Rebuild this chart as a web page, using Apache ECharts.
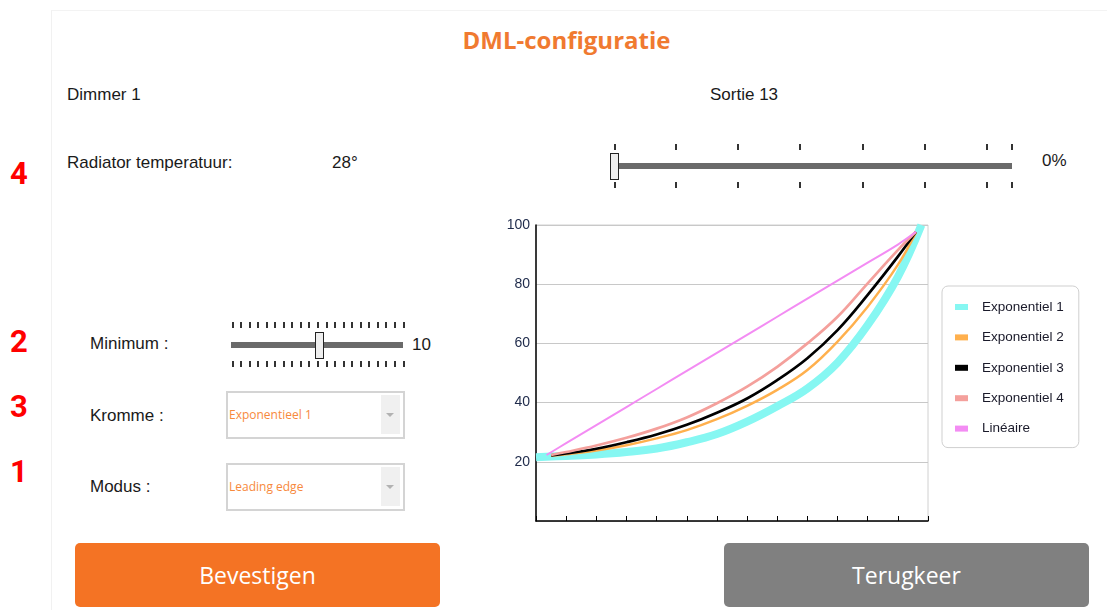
<!DOCTYPE html>
<html lang="nl">
<head>
    <meta charset="UTF-8">
    <title>DML-configuratie</title>
    <style>
        html,body{
            margin: 0;
            padding: 0;
            background: #fff;
        }
        #page{
            position: relative;
            width: 1107px;
            height: 610px;
            overflow: hidden;
            font-family: "Liberation Sans", Arial, sans-serif;
            color: #1a1a1a;
        }
        .abs{ position: absolute; white-space: nowrap; }
        .lbl{ font-size: 17px; line-height: 20px; }
        .nr{ font-family: Roboto, sans-serif; font-weight: 700; font-size: 31px; color: #ff0000; line-height: 32px; }
        #panel{ left: 51px; top: 10px; width: 1100px; height: 640px; border-left: 1px solid #f1f1f1; border-top: 1px solid #f3f3f3; }
        h1{ position: absolute; left: 0; width: 1133px; top: 23px; margin: 0; text-align: center;
            font-family: "Open Sans", sans-serif; font-weight: 700; font-size: 24px; color: #f07a30; line-height: 34px; }
        .track{ position: absolute; height: 6px; background: #6a6a6a; }
        .thumb{ position: absolute; width: 7px; height: 25px; background: #eeeeee; border: 1px solid #222; }
        .tick{ position: absolute; width: 2px; height: 6px; background: #333; }
        .combo{ position: absolute; width: 175px; height: 44px; border: 2px solid #d4d4d4; background: #fff; }
        .combo span{ position: absolute; left: 1px; top: 13px; font-family: "Open Sans", sans-serif; font-size: 12px; color: #f7893c; line-height: 18px; }
        .combo i{ position: absolute; left: 153px; top: 2px; width: 19px; height: 39px; background: #f0f0f0; }
        .combo i:after{ content: ""; position: absolute; left: 5px; top: 18px; border-left: 4.5px solid transparent; border-right: 4.5px solid transparent; border-top: 4px solid #b2b2b2; }
        .btn{ position: absolute; top: 543px; width: 365px; height: 64px; border-radius: 5px; color: #fff;
              font-family: "Open Sans", sans-serif; font-size: 23px; line-height: 64px; text-align: center; }
        #chart{ position: absolute; left: 480px; top: 200px; width: 620px; height: 340px; }
    </style>
</head>
<body>
<div id="page">
    <div id="panel" class="abs"></div>
    <h1>DML-configuratie</h1>

    <div class="abs lbl" style="left:67px;top:85px;">Dimmer 1</div>
    <div class="abs lbl" style="left:710px;top:85px;">Sortie 13</div>
    <div class="abs lbl" style="left:67px;top:153px;">Radiator temperatuur:</div>
    <div class="abs lbl" style="left:332px;top:153px;">28°</div>
    <div class="abs lbl" style="left:1042px;top:151px;">0%</div>

    <div class="abs nr" style="left:10px;top:158px;">4</div>
    <div class="abs nr" style="left:10px;top:326px;">2</div>
    <div class="abs nr" style="left:10px;top:391px;">3</div>
    <div class="abs nr" style="left:10px;top:456px;">1</div>

    <div class="abs lbl" style="left:90px;top:334px;">Minimum :</div>
    <div class="abs lbl" style="left:90px;top:406px;">Kromme :</div>
    <div class="abs lbl" style="left:90px;top:477px;">Modus :</div>
    <div class="abs lbl" style="left:412px;top:335px;">10</div>

    <div class="track" style="left:616px;top:163px;width:396px;"></div>
    <div class="thumb" style="left:610px;top:153px;"></div>
    <div id="ticksTop"></div>

    <div class="track" style="left:231px;top:342px;width:172px;"></div>
    <div class="thumb" style="left:315px;top:332px;"></div>
    <div id="ticksMin"></div>

    <div class="combo" style="left:226px;top:391px;"><span>Exponentieel 1</span><i></i></div>
    <div class="combo" style="left:226px;top:463px;"><span>Leading edge</span><i></i></div>

    <div class="btn" style="left:75px;background:#f47324;">Bevestigen</div>
    <div class="btn" style="left:724px;background:#808080;">Terugkeer</div>

    <div id="chart"></div>
</div>
<script src="https://cdn.jsdelivr.net/npm/echarts@6/dist/echarts.min.js"></script>
<script>
    // slider tick marks
    var topTicks = [614, 675, 737, 799, 862, 924, 986, 1011];
    function addTicks(el, xs, y1, y2) {
        var html = '';
        xs.forEach(function (x) {
            html += '<div class="tick" style="left:' + x + 'px;top:' + y1 + 'px;"></div>';
            html += '<div class="tick" style="left:' + x + 'px;top:' + y2 + 'px;"></div>';
        });
        document.getElementById(el).innerHTML = html;
    }
    addTicks('ticksTop', topTicks, 144, 182);
    var minTicks = [];
    for (var i = 0; i <= 20; i++) minTicks.push(Math.round(231.5 + i * 8.55));
    addTicks('ticksMin', minTicks, 322, 361);

    // curve data: [stap, uitgang %]
    var names = ['Exponentiel 1', 'Exponentiel 2', 'Exponentiel 3', 'Exponentiel 4', 'Linéaire'];
    var exp1 = [[0, 21.5], [1, 22], [2, 22.5], [3, 23.3], [4, 24.5], [5, 26.6], [6, 29.4], [7, 33.6],
        [8, 38.8], [9, 44.8], [10, 53.5], [11, 66.2], [12, 82.5], [12.78, 100]];
    var exp2 = [[0.5, 22], [1, 22.5], [2, 23.8], [3, 25.6], [4, 27.9], [5, 30.7], [6, 34.4], [7, 38.9],
        [8, 44.3], [9, 51], [10, 60.6], [11, 72.4], [12, 86.5], [12.6, 97.5]];
    var exp3 = [[0.5, 22.2], [1, 22.8], [2, 24.4], [3, 26.6], [4, 29.2], [5, 32.5], [6, 36.6], [7, 41.4],
        [8, 47.6], [9, 55], [10, 64.5], [11, 76.4], [12, 89.3], [12.6, 97.7]];
    var exp4 = [[0.5, 22.3], [1, 23.3], [2, 25.5], [3, 28.1], [4, 31.2], [5, 35], [6, 39.8], [7, 45.4],
        [8, 52.1], [9, 60], [10, 69], [11, 80.3], [12, 91.5], [12.6, 97.7]];
    var lin = [[0.35, 22.3], [1, 26.3], [2, 32.4], [3, 38.5], [4, 44.6], [5, 50.7], [6, 56.8], [7, 62.9],
        [8, 69], [9, 75.1], [10, 81.2], [11, 87.3], [12, 93.4], [12.6, 97.7]];
    var colors = ['#86f7f2', '#ffb04d', '#000000', '#f4a09c', '#f38cf3'];
    var widths = [8, 2.4, 2.7, 2.7, 2];
    var curves = [exp1, exp2, exp3, exp4, lin];

    var myChart = echarts.init(document.getElementById('chart'));

    myChart.setOption({
        animation: false,
        color: colors,
        grid: {
            left: 56,
            top: 25,
            width: 392,
            height: 296,
            show: true,
            borderColor: '#d0d0d0',
            borderWidth: 1
        },
        legend: {
            orient: 'vertical',
            left: 462,
            top: 86,
            icon: 'rect',
            itemWidth: 13,
            itemHeight: 6,
            itemGap: 16.4,
            padding: [14, 15, 12, 13],
            borderColor: '#cfcfcf',
            borderWidth: 1,
            borderRadius: 6,
            textStyle: {
                fontFamily: 'Liberation Sans',
                fontSize: 13.5,
                lineHeight: 14,
                color: '#1a1a2a',
                padding: [0, 0, 0, 9]
            },
            data: names
        },
        xAxis: {
            type: 'value',
            min: 0,
            max: 13,
            interval: 1,
            axisLabel: { show: false },
            axisLine: { lineStyle: { color: '#000', width: 1.5 } },
            axisTick: { inside: true, length: 5, lineStyle: { color: '#000' } },
            splitLine: { show: false }
        },
        yAxis: {
            type: 'value',
            min: 0,
            max: 100,
            interval: 20,
            axisLine: { show: true, lineStyle: { color: '#000', width: 1.5 } },
            axisTick: { show: false },
            axisLabel: {
                margin: 6,
                fontFamily: 'Liberation Sans',
                fontSize: 14,
                color: '#1e2a4a',
                formatter: function (v) { return v === 0 ? '' : v; }
            },
            splitLine: { lineStyle: { color: '#c8c8c8' } }
        },
        series: curves.map(function (d, i) {
            return {
                name: names[i],
                type: 'line',
                smooth: 0.4,
                symbol: 'none',
                data: d,
                lineStyle: { width: widths[i], color: colors[i] }
            };
        })
    });
</script>
</body>
</html>
